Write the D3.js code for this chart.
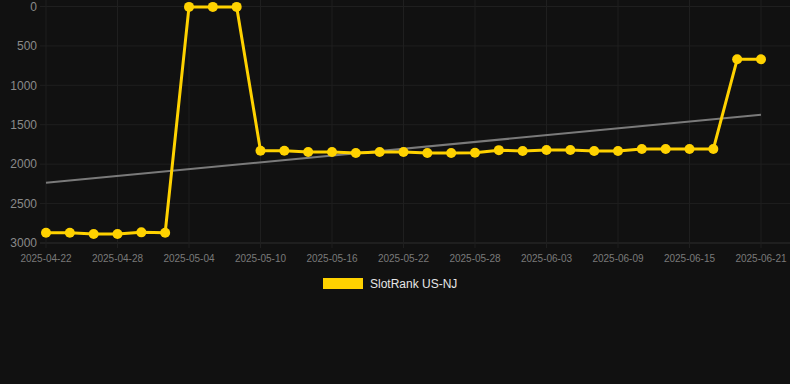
<!DOCTYPE html>
<html>
<head>
<meta charset="utf-8">
<script src="https://cdn.jsdelivr.net/npm/d3@7/dist/d3.min.js"></script>
<style>
  body { margin: 0; background: #111111; }
  svg { display: block; font-family: "Liberation Sans", Arial, sans-serif; }
</style>
</head>
<body>
<div id="chart"></div>
<script>
var width = 790;
var height = 384;

// one point every two days, 2025-04-22 .. 2025-06-21
var dates = ["2025-04-22", "2025-04-24", "2025-04-26", "2025-04-28", "2025-04-30", "2025-05-02",
  "2025-05-04", "2025-05-06", "2025-05-08", "2025-05-10", "2025-05-12", "2025-05-14",
  "2025-05-16", "2025-05-18", "2025-05-20", "2025-05-22", "2025-05-24", "2025-05-26",
  "2025-05-28", "2025-05-30", "2025-06-01", "2025-06-03", "2025-06-05", "2025-06-07",
  "2025-06-09", "2025-06-11", "2025-06-13", "2025-06-15", "2025-06-17", "2025-06-19",
  "2025-06-21"];
var ranks = [2870, 2870, 2885, 2885, 2865, 2870,
  5, 5, 5, 1830, 1830, 1845,
  1845, 1858, 1845, 1845, 1858, 1858,
  1855, 1822, 1832, 1820, 1820, 1834,
  1834, 1808, 1808, 1808, 1808, 670,
  670];
var trendDates = ["2025-04-22", "2025-06-21"];
var trendValues = [2236, 1373];
var xTicks = ["2025-04-22", "2025-04-28", "2025-05-04", "2025-05-10", "2025-05-16", "2025-05-22",
  "2025-05-28", "2025-06-03", "2025-06-09", "2025-06-15", "2025-06-21"];
var yTicks = [0, 500, 1000, 1500, 2000, 2500, 3000];
var seriesName = "SlotRank US-NJ";

var parseDate = d3.timeParse("%Y-%m-%d");
var data = dates.map(function(d, i) {
  return { date: parseDate(d), value: ranks[i] };
});
var trend = trendDates.map(function(d, i) {
  return { date: parseDate(d), value: trendValues[i] };
});

/* Scale */
var xScale = d3.scaleTime()
  .domain([parseDate(dates[0]), parseDate(dates[dates.length - 1])])
  .range([46, 761]);

var yScale = d3.scaleLinear()
  .domain([0, 3000])
  .range([6.5, 243]);

var svg = d3.select("#chart")
  .append("svg")
  .attr("width", width)
  .attr("height", height);

svg.append("rect")
  .attr("width", width)
  .attr("height", height)
  .attr("fill", "#111111");

/* Grid */
svg.append("g")
  .selectAll("line")
  .data(yTicks)
  .enter()
  .append("line")
  .attr("x1", 40)
  .attr("x2", 790)
  .attr("y1", d => yScale(d))
  .attr("y2", d => yScale(d))
  .attr("stroke", d => d === 3000 ? "#2e2e2e" : "#1f1f1f")
  .attr("stroke-width", 1);

svg.append("g")
  .selectAll("line")
  .data(xTicks)
  .enter()
  .append("line")
  .attr("x1", d => xScale(parseDate(d)))
  .attr("x2", d => xScale(parseDate(d)))
  .attr("y1", 0)
  .attr("y2", 248)
  .attr("stroke", "#1f1f1f")
  .attr("stroke-width", 1);

/* Axis labels */
svg.append("g")
  .selectAll("text")
  .data(yTicks)
  .enter()
  .append("text")
  .attr("x", 37)
  .attr("y", d => yScale(d))
  .attr("dy", "0.35em")
  .attr("text-anchor", "end")
  .attr("fill", "#8a8a8a")
  .style("font-size", "12px")
  .text(d => d);

svg.append("g")
  .selectAll("text")
  .data(xTicks)
  .enter()
  .append("text")
  .attr("x", d => xScale(parseDate(d)))
  .attr("y", 262)
  .attr("text-anchor", "middle")
  .attr("fill", "#7a7a7a")
  .style("font-size", "10px")
  .text(d => d);

/* Trend line */
var line = d3.line()
  .x(d => xScale(d.date))
  .y(d => yScale(d.value));

svg.append("path")
  .datum(trend)
  .attr("d", line)
  .attr("fill", "none")
  .attr("stroke", "#7a7a7a")
  .attr("stroke-width", 2);

/* Series */
svg.append("path")
  .datum(data)
  .attr("d", line)
  .attr("fill", "none")
  .attr("stroke", "#ffd200")
  .attr("stroke-width", 3)
  .attr("stroke-linejoin", "round");

svg.append("g")
  .selectAll("circle")
  .data(data)
  .enter()
  .append("circle")
  .attr("cx", d => xScale(d.date))
  .attr("cy", d => yScale(d.value))
  .attr("r", 5)
  .attr("fill", "#ffd200");

/* Legend */
var legend = svg.append("g");
legend.append("rect")
  .attr("x", 323)
  .attr("y", 278)
  .attr("width", 40)
  .attr("height", 11)
  .attr("fill", "#ffd200");
legend.append("text")
  .attr("x", 370)
  .attr("y", 283.5)
  .attr("dy", "0.35em")
  .attr("fill", "#e6e6e6")
  .style("font-size", "12px")
  .text(seriesName);
</script>
</body>
</html>
